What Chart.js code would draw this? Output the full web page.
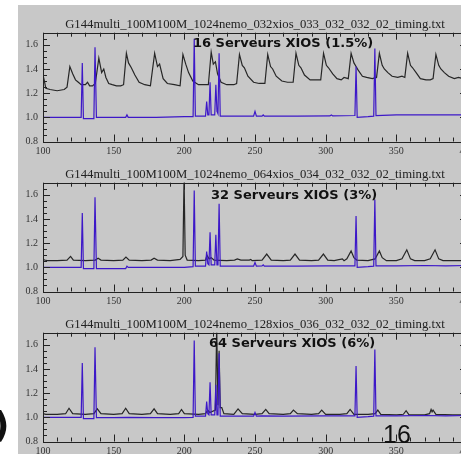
<!DOCTYPE html>
<html>
<head>
<meta charset="utf-8">
<script src="https://cdn.jsdelivr.net/npm/chart.js@4.4.0/dist/chart.umd.min.js"></script>
<style>
  body { margin: 0; width: 461px; height: 454px; overflow: hidden; background: #fff; position: relative; }
  #fond { position: absolute; left: 18px; top: 5px; width: 443px; height: 449px; background: #c8c8c8; }
  .panel { position: absolute; left: 0; width: 480px; height: 160px; }
  .note { position: absolute; font: bold 13px "DejaVu Sans"; line-height: 1; color: #111; white-space: nowrap; }
  #page { position: absolute; left: 383px; top: 422px; font: 25px "Liberation Sans"; line-height: 1; color: #111; }
  #paren { position: absolute; left: -7px; top: 407px; font: bold 36px "DejaVu Sans"; line-height: 1; color: #111; }
</style>
</head>
<body>
<div id="fond"></div>
<div class="panel" style="top:0px"><canvas id="c0" width="480" height="160"></canvas></div>
<div class="panel" style="top:150px"><canvas id="c1" width="480" height="160"></canvas></div>
<div class="panel" style="top:300px"><canvas id="c2" width="480" height="160"></canvas></div>
<div class="note" style="left:193px;top:36px">16 Serveurs XIOS (1.5%)</div>
<div class="note" style="left:211px;top:188px">32 Serveurs XIOS (3%)</div>
<div class="note" style="left:209px;top:336px">64 Serveurs XIOS (6%)</div>
<div id="page">16</div>
<div id="paren">)</div>
<script>
// axes
const xMin = 100, xMax = 400, xMajor = 50, xMinor = 10;
const yMin = 0.8, yMax = 1.7, yMajor = 0.2, yMinor = 0.05;

const titres = [
    'G144multi_100M100M_1024nemo_032xios_033_032_032_02_timing.txt',
    'G144multi_100M100M_1024nemo_064xios_034_032_032_02_timing.txt',
    'G144multi_100M100M_1024nemo_128xios_036_032_032_02_timing.txt'
];

// panneau 1 : 16 serveurs
const noir1 = [[100,1.35],[101,1.30],[102,1.24],[105,1.23],[110,1.22],[115,1.23],[117,1.25],[119,1.42],[121,1.36],[123,1.31],[125,1.29],[127,1.27],[130,1.27],[131.5,1.29],[133,1.26],[135,1.26],[137,1.28],[139.5,1.49],[141.5,1.37],[143,1.40],[144.5,1.33],[146.5,1.28],[149,1.27],[152,1.26],[155,1.26],[157,1.27],[159,1.53],[160.5,1.45],[162.5,1.41],[165,1.35],[168,1.29],[172,1.27],[176,1.26],[179,1.53],[181,1.42],[182.5,1.44],[185,1.32],[188,1.28],[193,1.27],[197,1.26],[199,1.52],[201,1.44],[203,1.37],[206,1.30],[210,1.27],[214,1.27],[217,1.27],[219,1.54],[220.5,1.44],[222,1.46],[223.5,1.36],[226,1.29],[230,1.27],[235,1.27],[237,1.28],[239,1.52],[241,1.43],[242.5,1.41],[245,1.34],[249,1.29],[253,1.28],[257,1.28],[259,1.52],[261,1.42],[262.5,1.40],[265,1.34],[269,1.30],[273,1.29],[277,1.29],[279,1.53],[281,1.43],[282.5,1.41],[285,1.35],[289,1.31],[293,1.31],[296.5,1.31],[298.5,1.53],[300.5,1.43],[302,1.41],[305,1.36],[308,1.32],[311,1.31],[313,1.33],[316,1.32],[318,1.53],[320,1.45],[321.5,1.42],[323,1.39],[326,1.34],[329,1.33],[333,1.32],[336,1.33],[338,1.53],[340,1.43],[341.5,1.40],[344,1.37],[347,1.34],[351,1.33],[354,1.34],[356,1.33],[358,1.53],[360,1.43],[361.5,1.41],[364,1.37],[367,1.32],[371,1.31],[374,1.31],[376,1.32],[378,1.52],[380,1.43],[381.5,1.40],[384,1.37],[387,1.34],[391,1.32],[394,1.33],[397,1.32],[400,1.33]];
const bleu1 = [[100,1.0],[110,1.0],[120,1.0],[127,1.0],[127.8,1.45],[128.6,0.99],[133,0.99],[136,0.99],[136.8,1.58],[137.8,1.0],[145,1.0],[158.5,1.0],[159.4,1.02],[160.3,1.0],[180,1.0],[200,1.005],[206.2,1.005],[207,1.65],[207.8,1.01],[215,1.01],[215.8,1.13],[216.6,1.02],[217.4,1.02],[218.2,1.29],[219,1.02],[221.5,1.02],[222.3,1.27],[223.1,1.05],[223.8,1.03],[224.6,1.53],[225.4,1.01],[235,1.01],[249,1.01],[250,1.05],[251,1.01],[255,1.01],[255.8,1.02],[256.6,1.01],[280,1.01],[303,1.012],[304,1.02],[305,1.012],[320.7,1.015],[321.5,1.42],[322.3,1.0],[330,1.005],[334,1.01],[334.8,1.57],[335.6,1.015],[350,1.02],[365,1.02],[380,1.02],[400,1.02]];

// panneau 2 : 32 serveurs
const noir2 = [[100,1.07],[101,1.06],[103,1.055],[110,1.055],[117,1.06],[119.5,1.09],[121.5,1.06],[130,1.055],[137,1.06],[139,1.075],[141,1.06],[150,1.055],[156.5,1.06],[158.7,1.085],[161,1.06],[170,1.055],[176.5,1.06],[178.6,1.075],[181,1.06],[190,1.055],[197,1.065],[199,1.09],[199.8,1.75],[200.6,1.1],[202,1.06],[210,1.055],[215,1.06],[216,1.1],[217.5,1.07],[219,1.08],[221,1.06],[230,1.055],[235.5,1.06],[237.5,1.07],[240,1.06],[246,1.06],[247,1.065],[248,1.055],[255,1.06],[258.3,1.11],[261.5,1.06],[270,1.055],[275,1.06],[278.3,1.11],[281.5,1.06],[290,1.055],[295,1.06],[298.4,1.11],[301.5,1.06],[306,1.055],[311.8,1.07],[313,1.055],[315,1.07],[318,1.135],[320,1.08],[322,1.06],[330,1.055],[335,1.07],[338,1.135],[340,1.08],[343,1.055],[350,1.055],[354,1.07],[357.4,1.145],[360,1.07],[363,1.055],[370,1.055],[374,1.07],[377.4,1.145],[380,1.07],[383,1.055],[390,1.055],[400,1.055]];
const bleu2 = [[100,1.0],[110,1.0],[120,1.0],[127,1.0],[127.8,1.45],[128.6,0.99],[133,0.99],[136,0.99],[136.8,1.58],[137.8,0.99],[145,0.99],[158.5,0.99],[159.4,1.01],[160.3,1.0],[180,1.0],[200,1.0],[206.2,1.005],[207,1.635],[207.8,1.01],[215,1.01],[215.8,1.13],[216.6,1.03],[217.4,1.02],[218.2,1.29],[219,1.02],[221.5,1.02],[222.3,1.27],[223.1,1.02],[223.8,1.02],[224.6,1.525],[225.4,1.01],[240,1.01],[249,1.01],[250,1.04],[251,1.01],[255,1.012],[255.8,1.02],[256.6,1.01],[280,1.01],[300,1.012],[320.7,1.012],[321.5,1.425],[322.3,1.0],[330,1.005],[334,1.01],[334.8,1.56],[335.6,1.012],[350,1.012],[370,1.015],[385,1.012],[400,1.015]];

// panneau 3 : 64 serveurs
const noir3 = [[100,1.03],[102,1.025],[110,1.025],[116,1.03],[118.4,1.075],[121,1.03],[130,1.025],[136,1.03],[138.4,1.07],[141,1.03],[150,1.025],[156,1.03],[158.5,1.075],[161,1.03],[170,1.025],[176,1.03],[178.6,1.07],[181,1.03],[190,1.025],[196,1.03],[198,1.065],[200,1.03],[210,1.025],[215,1.03],[216.5,1.06],[218,1.04],[222,1.06],[222.9,1.75],[223.8,1.1],[224.6,1.55],[225.4,1.08],[226.5,1.08],[228,1.03],[235,1.025],[238,1.07],[241,1.03],[250,1.025],[255,1.03],[257.6,1.065],[260,1.03],[270,1.025],[275,1.03],[277.2,1.06],[280,1.03],[290,1.025],[295,1.03],[297.2,1.06],[300,1.025],[310,1.025],[315,1.03],[317.3,1.065],[320,1.025],[330,1.025],[335,1.03],[336.9,1.06],[339,1.025],[350,1.02],[355,1.025],[356.9,1.055],[359,1.02],[370,1.02],[373.5,1.03],[374.6,1.065],[375.3,1.045],[376,1.06],[378,1.025],[390,1.02],[400,1.02]];
const bleu3 = [[100,1.0],[110,1.0],[120,1.0],[127,1.0],[127.8,1.45],[128.6,0.99],[133,0.99],[136,0.99],[136.8,1.58],[137.8,0.997],[150,0.997],[159.4,1.0],[180,0.997],[200,0.997],[206.2,1.0],[207,1.635],[207.8,1.01],[215,1.01],[215.8,1.13],[216.6,1.03],[217.4,1.02],[218.2,1.29],[219,1.02],[221.5,1.02],[222.3,1.27],[223.1,1.02],[223.8,1.02],[224.6,1.53],[225.4,1.01],[240,1.01],[249,1.01],[250,1.04],[251,1.01],[255,1.012],[270,1.01],[300,1.012],[320.7,1.012],[321.5,1.425],[322.3,1.0],[330,1.005],[334,1.01],[334.8,1.56],[335.6,1.012],[350,1.012],[370,1.015],[385,1.012],[400,1.015]];

const noirs = [noir1, noir2, noir3];
const bleus = [bleu1, bleu2, bleu3];

const cadre = {
    id: 'cadre',
    afterDatasetsDraw(chart) {
        const { ctx, chartArea: a, scales: { x, y } } = chart;
        ctx.save();
        ctx.strokeStyle = '#222';
        ctx.lineWidth = 1;
        ctx.strokeRect(Math.round(a.left) + 0.5, Math.round(a.top) + 0.5, Math.round(a.right - a.left), Math.round(a.bottom - a.top));
        ctx.beginPath();
        for (let v = xMin; v <= xMax; v += xMinor) {
            const p = Math.round(x.getPixelForValue(v)) + 0.5;
            const len = v % xMajor === 0 ? 7 : 4;
            ctx.moveTo(p, a.bottom); ctx.lineTo(p, a.bottom - len);
            ctx.moveTo(p, a.top); ctx.lineTo(p, a.top + len);
        }
        const n = Math.round((yMax - yMin) / yMinor);
        for (let i = 0; i <= n; i++) {
            const p = Math.round(y.getPixelForValue(yMin + i * yMinor)) + 0.5;
            const len = i % 4 === 0 ? 7 : 4;
            ctx.moveTo(a.left, p); ctx.lineTo(a.left + len, p);
            ctx.moveTo(a.right, p); ctx.lineTo(a.right - len, p);
        }
        ctx.stroke();
        ctx.restore();
    }
};

const toXY = serie => serie.map(p => ({ x: p[0], y: p[1] }));

titres.forEach((titre, i) => {
    new Chart(document.getElementById('c' + i), {
        type: 'line',
        data: {
            datasets: [
                { data: toXY(bleus[i]), borderColor: '#3d18c8', borderWidth: 1.2, pointRadius: 0, tension: 0 },
                { data: toXY(noirs[i]), borderColor: '#262626', borderWidth: 1.2, pointRadius: 0, tension: 0 }
            ]
        },
        options: {
            responsive: false,
            animation: false,
            events: [],
            layout: { padding: { top: 18, right: 13, left: 0, bottom: 0 } },
            plugins: {
                legend: { display: false },
                tooltip: { enabled: false },
                title: {
                    display: true,
                    text: titre,
                    fullSize: false,
                    color: '#222',
                    font: { family: 'Liberation Serif', size: 12.7, weight: 'normal', lineHeight: 1 },
                    padding: { top: 0, bottom: 2 }
                }
            },
            scales: {
                x: {
                    type: 'linear',
                    min: xMin, max: xMax,
                    grid: { display: false, drawTicks: false },
                    border: { display: false },
                    ticks: { stepSize: xMajor, padding: 4, color: '#333', maxRotation: 0,
                             font: { family: 'Liberation Serif', size: 10 } },
                    afterFit: s => { s.height = 18.5; }
                },
                y: {
                    min: yMin, max: yMax,
                    grid: { display: false, drawTicks: false },
                    border: { display: false },
                    ticks: { stepSize: yMajor, includeBounds: false, padding: 5, color: '#333',
                             font: { family: 'Liberation Serif', size: 10 },
                             callback: v => v.toFixed(1) },
                    afterFit: s => { s.width = 43; }
                }
            }
        },
        plugins: [cadre]
    });
});
</script>
</body>
</html>
